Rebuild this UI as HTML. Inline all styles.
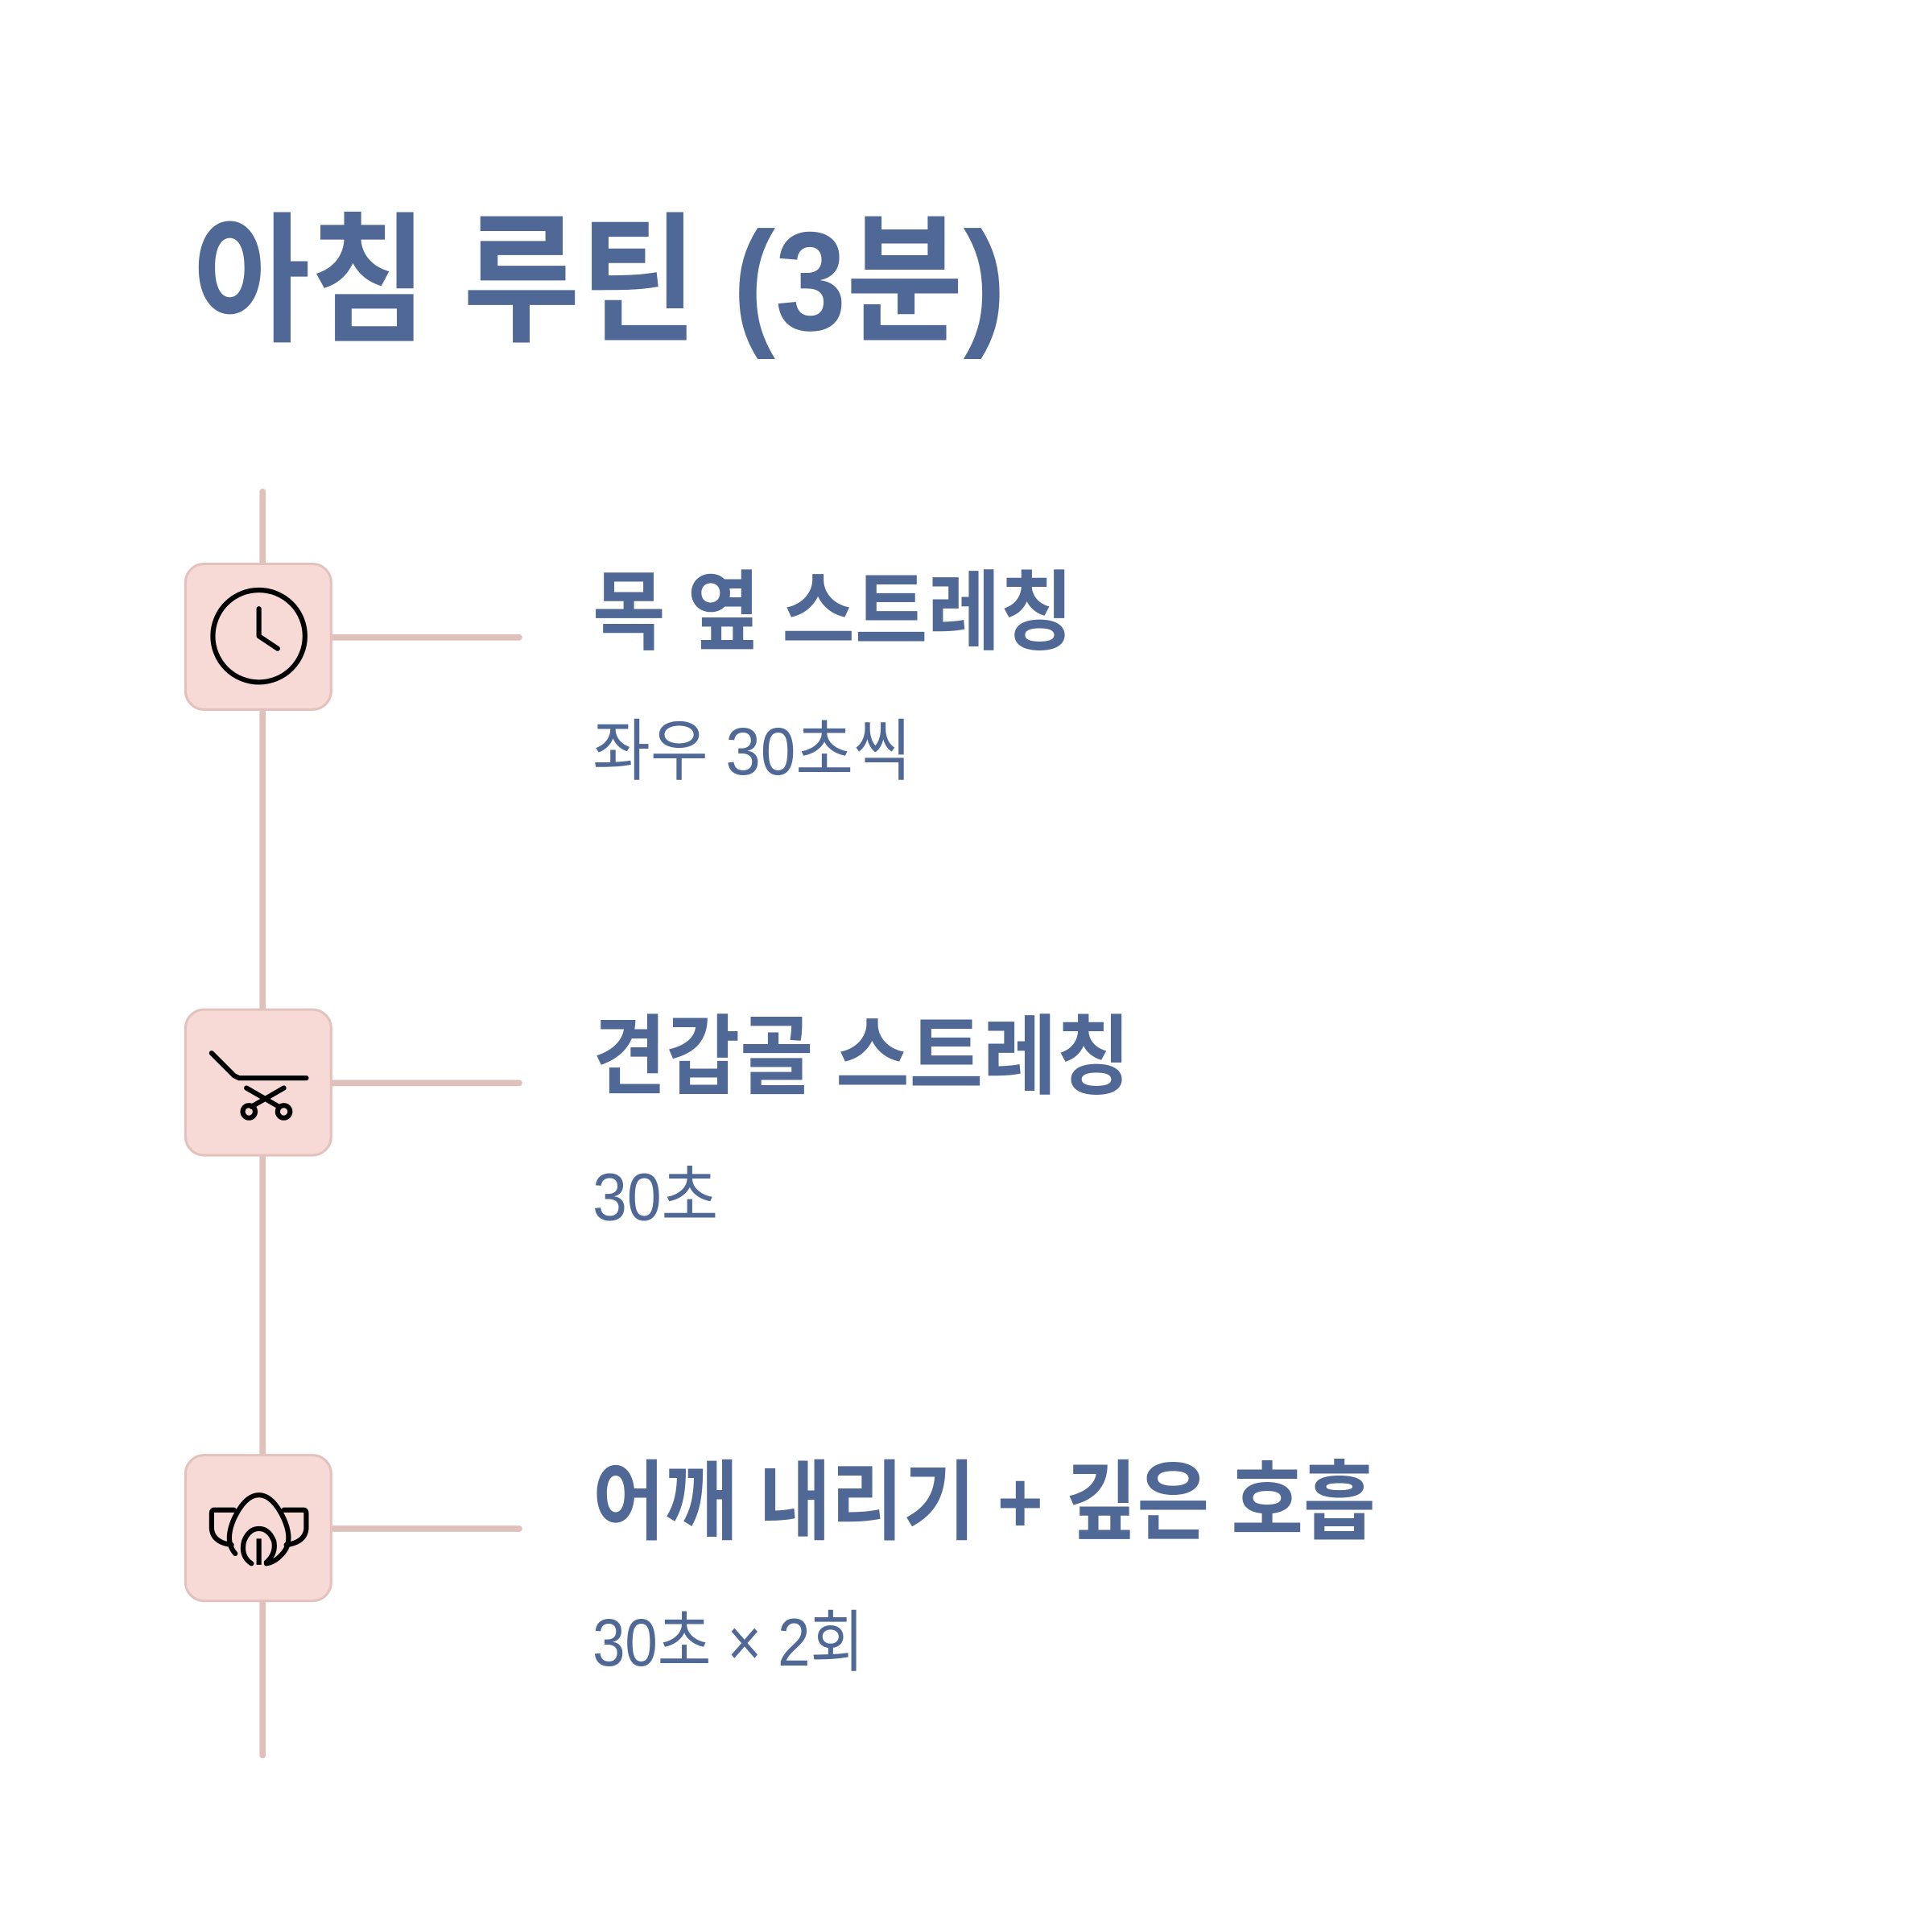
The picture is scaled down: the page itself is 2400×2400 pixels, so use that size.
<!DOCTYPE html>
<html><head><meta charset="utf-8"><style>html,body{margin:0;padding:0;background:#fff}svg{display:block}</style></head>
<body>
<svg width="2400" height="2400" viewBox="0 0 1552 1552" xmlns="http://www.w3.org/2000/svg">
<rect width="1552" height="1552" fill="#fff"/>
<g stroke="#dfc0bb" stroke-width="5" stroke-linecap="round" fill="none">
<line x1="211" y1="395" x2="211" y2="1410"/>
<line x1="266" y1="512" x2="417" y2="512"/>
<line x1="266" y1="870" x2="417" y2="870"/>
<line x1="266" y1="1228" x2="417" y2="1228"/>
</g>
<g fill="#f7dad6" stroke="#e3c2bd" stroke-width="2">
<rect x="149" y="453" width="117" height="117" rx="15"/>
<rect x="149" y="811" width="117" height="117" rx="15"/>
<rect x="149" y="1169" width="117" height="117" rx="15"/>
</g>
<g fill="none" stroke="#000" stroke-width="4" stroke-linecap="round" stroke-linejoin="round">
<circle cx="208" cy="511" r="37"/>
<polyline points="208,489 208,511 223,521"/>
<polyline points="170,846 188,864 192,866 246,866"/>
<line x1="198" y1="874" x2="224" y2="889"/>
<line x1="228" y1="874" x2="202" y2="889"/>
<circle cx="200" cy="893" r="5"/>
<circle cx="228" cy="893" r="5"/>
<path d="M188 1213 H172 Q170 1213 170 1216 V1228 Q171 1239 186 1241"/>
<path d="M228 1213 H244 Q246 1213 246 1216 V1228 Q245 1239 230 1241"/>
<path d="M189 1248 Q180 1238 188 1220 Q197 1201 208 1201 Q219 1201 228 1220 Q236 1238 227 1248 Q221 1255 214 1256"/>
<path d="M202 1256 Q193 1250 196 1238 Q200 1228 208 1228 Q216 1228 220 1238 Q222 1248 214 1255"/>
<line x1="208" y1="1236" x2="208" y2="1257" stroke-linecap="butt"/>
</g>
<g fill="#4f6895" font-family="'Liberation Sans','Noto Sans CJK KR',sans-serif">
<text x="155" y="265" font-size="113" font-weight="700" textLength="653" lengthAdjust="spacingAndGlyphs">아침 루틴 (3분)</text>
<text x="476" y="516" font-size="70" font-weight="700" textLength="386" lengthAdjust="spacingAndGlyphs">목 옆 스트레칭</text>
<text x="476" y="622" font-size="54" textLength="256" lengthAdjust="spacingAndGlyphs">좌우 30초씩</text>
<text x="476" y="873" font-size="70" font-weight="700" textLength="432" lengthAdjust="spacingAndGlyphs">견갑골 스트레칭</text>
<text x="476" y="980" font-size="54" textLength="101" lengthAdjust="spacingAndGlyphs">30초</text>
<text x="476" y="1231" font-size="70" font-weight="700" textLength="629" lengthAdjust="spacingAndGlyphs">어깨 내리기 + 깊은 호흡</text>
<text x="476" y="1338" font-size="54" textLength="218" lengthAdjust="spacingAndGlyphs">30초 × 2회</text>
</g>
</svg>
</body></html>
